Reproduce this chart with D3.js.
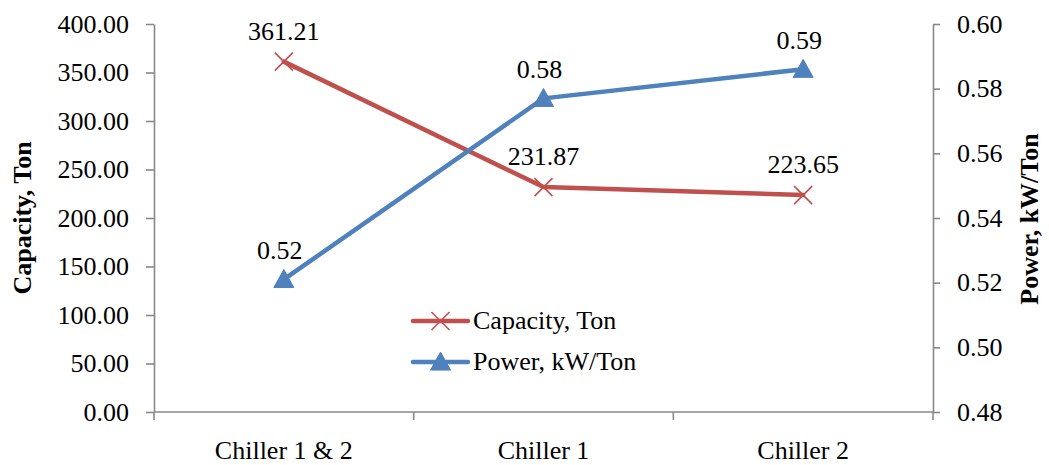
<!DOCTYPE html>
<html>
<head>
<meta charset="utf-8">
<script src="https://cdn.jsdelivr.net/npm/d3@7/dist/d3.min.js"></script>
<style>
  html, body { margin: 0; padding: 0; background: #fff; }
  svg { display: block; }
  text { font-family: "Liberation Serif", "Times New Roman", serif; fill: #000; }
</style>
</head>
<body>
<svg id="chart" width="1049" height="465"></svg>
<script>
// Chiller capacity vs. specific power
const categories = ["Chiller 1 & 2", "Chiller 1", "Chiller 2"];
const capacityTon = [361.21, 231.87, 223.65];
const powerKwPerTon = [0.521, 0.577, 0.586];
const capacityTicks = [0, 50, 100, 150, 200, 250, 300, 350, 400];
const powerTicks = [0.48, 0.50, 0.52, 0.54, 0.56, 0.58, 0.60];
const capacityName = "Capacity, Ton";
const powerName = "Power, kW/Ton";

const W = 1049, H = 465;
const plot = { left: 154, right: 933, top: 24, bottom: 412 };
const RED = "#C0504D", BLUE = "#4F81BD", AXIS = "#898989";
const FS = 26;

const svg = d3.select("#chart");

const x = d3.scaleBand().domain(categories).range([plot.left, plot.right]).padding(0);
const yCap = d3.scaleLinear().domain([0, 400]).range([plot.bottom, plot.top]);
const yPow = d3.scaleLinear().domain([0.48, 0.60]).range([plot.bottom, plot.top]);
const cx = d => x(d) + x.bandwidth() / 2;

function styleAxis(g) {
  g.select(".domain").attr("stroke", AXIS).attr("stroke-width", 1.6);
  g.selectAll(".tick line").attr("stroke", AXIS).attr("stroke-width", 1.6);
  g.selectAll(".tick text")
    .style("font-family", '"Liberation Serif", "Times New Roman", serif')
    .style("font-size", FS + "px").attr("fill", "#000");
}

// Left axis (capacity)
svg.append("g")
  .attr("transform", `translate(${plot.left},0)`)
  .call(d3.axisLeft(yCap).tickValues(capacityTicks).tickFormat(d3.format(".2f"))
    .tickSize(8).tickSizeOuter(0).tickPadding(17))
  .call(styleAxis);

// Right axis (power)
svg.append("g")
  .attr("transform", `translate(${plot.right},0)`)
  .call(d3.axisRight(yPow).tickValues(powerTicks).tickFormat(d3.format(".2f"))
    .tickSize(7).tickSizeOuter(0).tickPadding(17))
  .call(styleAxis);

// Category axis with ticks on band boundaries
const xAxis = svg.append("g").attr("transform", `translate(0,${plot.bottom})`);
xAxis.append("line")
  .attr("x1", plot.left).attr("x2", plot.right)
  .attr("stroke", AXIS).attr("stroke-width", 1.6);
const bounds = categories.map(c => x(c)).concat([x(categories[categories.length - 1]) + x.bandwidth()]);
xAxis.selectAll("line.bt").data(bounds).enter().append("line")
  .attr("class", "bt")
  .attr("x1", d => d).attr("x2", d => d).attr("y1", 0).attr("y2", 8)
  .attr("stroke", AXIS).attr("stroke-width", 1.6);
xAxis.selectAll("text").data(categories).enter().append("text")
  .attr("x", d => cx(d)).attr("y", 47)
  .attr("text-anchor", "middle").style("font-size", FS + "px")
  .text(d => d);

// Axis titles
svg.append("text")
  .attr("transform", `translate(31,218) rotate(-90)`)
  .attr("text-anchor", "middle").style("font-size", FS + "px").style("font-weight", "bold")
  .text(capacityName);
svg.append("text")
  .attr("transform", `translate(1038,219) rotate(-90)`)
  .attr("text-anchor", "middle").style("font-size", FS + "px").style("font-weight", "bold")
  .text(powerName);

// Series
const capLine = d3.line().x((d, i) => cx(categories[i])).y(d => yCap(d));
const powLine = d3.line().x((d, i) => cx(categories[i])).y(d => yPow(d));

svg.append("path").datum(capacityTon).attr("d", capLine)
  .attr("fill", "none").attr("stroke", RED).attr("stroke-width", 4.5)
  .attr("stroke-linejoin", "round").attr("stroke-linecap", "round");
svg.append("path").datum(powerKwPerTon).attr("d", powLine)
  .attr("fill", "none").attr("stroke", BLUE).attr("stroke-width", 4.5)
  .attr("stroke-linejoin", "round").attr("stroke-linecap", "round");

function drawX(g, px, py) {
  const s = 9;
  g.append("path")
    .attr("d", `M${px - s},${py - s}L${px + s},${py + s}M${px - s},${py + s}L${px + s},${py - s}`)
    .attr("stroke", RED).attr("stroke-width", 1.6).attr("fill", "none");
}
function drawTri(g, px, py) {
  const w = 10, h = 18;
  g.append("path")
    .attr("d", `M${px},${py - h * 0.55}L${px + w},${py + h * 0.45}L${px - w},${py + h * 0.45}Z`)
    .attr("fill", BLUE).attr("stroke", BLUE).attr("stroke-width", 1).attr("stroke-linejoin", "round");
}

const marks = svg.append("g");
capacityTon.forEach((v, i) => drawX(marks, cx(categories[i]), yCap(v)));
powerKwPerTon.forEach((v, i) => drawTri(marks, cx(categories[i]), yPow(v)));

// Data labels
const fmt = d3.format(".2f");
svg.append("g").selectAll("text").data(capacityTon).enter().append("text")
  .attr("x", (d, i) => cx(categories[i])).attr("y", d => yCap(d) - 22)
  .attr("text-anchor", "middle").style("font-size", FS + "px")
  .text(d => fmt(d));
svg.append("g").selectAll("text").data(powerKwPerTon).enter().append("text")
  .attr("x", (d, i) => cx(categories[i]) - 4).attr("y", d => yPow(d) - 20)
  .attr("text-anchor", "middle").style("font-size", FS + "px")
  .text(d => fmt(d));

// Legend
const legend = svg.append("g").attr("transform", "translate(413,321)");
const items = [
  { name: capacityName, color: RED, marker: drawX },
  { name: powerName, color: BLUE, marker: drawTri }
];
items.forEach((it, i) => {
  const g = legend.append("g").attr("transform", `translate(0,${i * 41})`);
  g.append("line").attr("x1", 0).attr("x2", 55).attr("y1", 0).attr("y2", 0)
    .attr("stroke", it.color).attr("stroke-width", 4.5).attr("stroke-linecap", "round");
  it.marker(g, 27.5, 0);
  g.append("text").attr("x", 60).attr("y", 8).style("font-size", FS + "px").text(it.name);
});
</script>
</body>
</html>
